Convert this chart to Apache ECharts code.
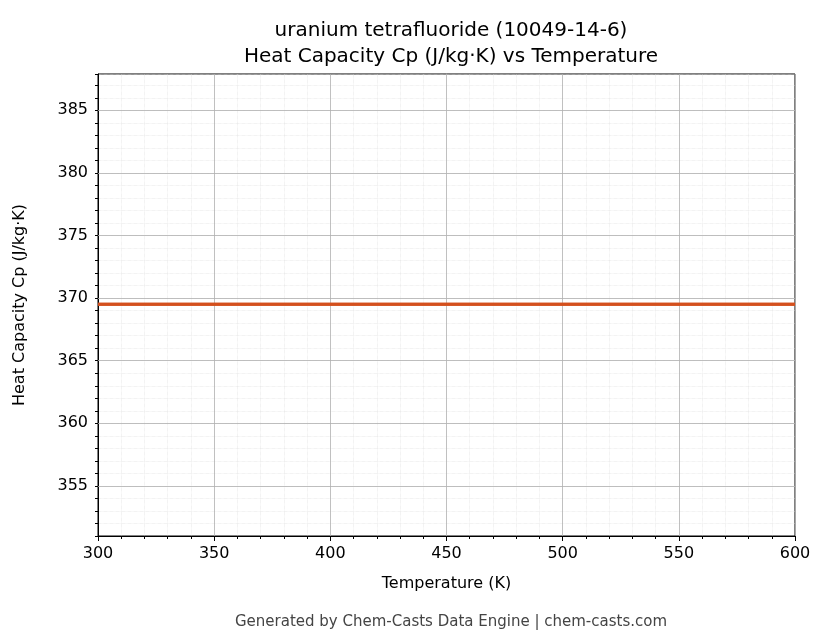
<!DOCTYPE html>
<html><head><meta charset="utf-8">
<script src="https://cdn.jsdelivr.net/npm/echarts@6/dist/echarts.min.js"></script>
<style>body{margin:0}#container{width:830px;height:644px}</style>
</head><body><div id="container"></div>
<script>
var temps = [300, 350, 400, 450, 500, 550, 600];
var cp = [369.5, 369.5, 369.5, 369.5, 369.5, 369.5, 369.5];
var yTicks = [355, 360, 365, 370, 375, 380, 385];

var myChart = echarts.init(document.getElementById('container'));
var font = 'DejaVu Sans';
var data = [];
for (var i = 0; i < temps.length; i++) data.push([temps[i], cp[i]]);
var majorLines = [];
for (var j = 0; j < yTicks.length; j++) majorLines.push({ yAxis: yTicks[j] });

var option = {
  animation: false,
  textStyle: { fontFamily: font },
  title: [{
    left: 446, top: 13, textAlign: 'center',
    text: 'uranium tetrafluoride (10049-14-6)\nHeat Capacity Cp (J/kg·K) vs Temperature',
    textStyle: { fontFamily: font, fontSize: 20, fontWeight: 'normal', color: '#000', lineHeight: 26 }
  }, {
    left: 446, top: 610, textAlign: 'center',
    text: 'Generated by Chem-Casts Data Engine | chem-casts.com',
    textStyle: { fontFamily: font, fontSize: 15, fontWeight: 'normal', color: '#444' }
  }],
  grid: { left: 98, right: 35, top: 74, bottom: 108, show: true, borderColor: '#000', borderWidth: 1, backgroundColor: 'transparent' },
  xAxis: {
    type: 'value', min: 300, max: 600, interval: 50,
    name: 'Temperature (K)', nameLocation: 'middle', nameGap: 40,
    nameTextStyle: { fontFamily: font, fontSize: 16, color: '#000' },
    axisLine: { lineStyle: { color: '#000' } },
    axisTick: { lineStyle: { color: '#000' }, length: 5 },
    axisLabel: { color: '#000', fontSize: 16, margin: 10 },
    minorTick: { show: true, splitNumber: 5, length: 3, lineStyle: { color: '#000' } },
    splitLine: { lineStyle: { color: '#b0b0b0', width: 0.8 } },
    minorSplitLine: { show: true, lineStyle: { color: '#ddd', type: 'dotted', width: 0.6 } }
  },
  yAxis: {
    type: 'value', min: 351, max: 387.9, interval: 1,
    name: 'Heat Capacity Cp (J/kg·K)', nameLocation: 'middle', nameGap: 70,
    nameTextStyle: { fontFamily: font, fontSize: 16, color: '#000' },
    axisLine: { show: true, lineStyle: { color: '#000' } },
    axisTick: { show: true, length: 3, lineStyle: { color: '#000' } },
    axisLabel: { color: '#000', fontSize: 16, customValues: yTicks, margin: 10 },
    splitLine: { lineStyle: { color: '#ddd', type: 'dotted', width: 0.6 } }
  },
  series: [{
    type: 'line', data: data, showSymbol: false,
    lineStyle: { color: '#d4501e', width: 3 },
    markLine: {
      silent: true, symbol: 'none', label: { show: false },
      lineStyle: { color: '#b0b0b0', type: 'solid', width: 0.8 },
      data: majorLines, z: 1
    }
  }, {
    type: 'line', data: data, showSymbol: false, z: 5,
    lineStyle: { color: '#d4501e', width: 3 }
  }]
};
myChart.setOption(option);
</script></body></html>
